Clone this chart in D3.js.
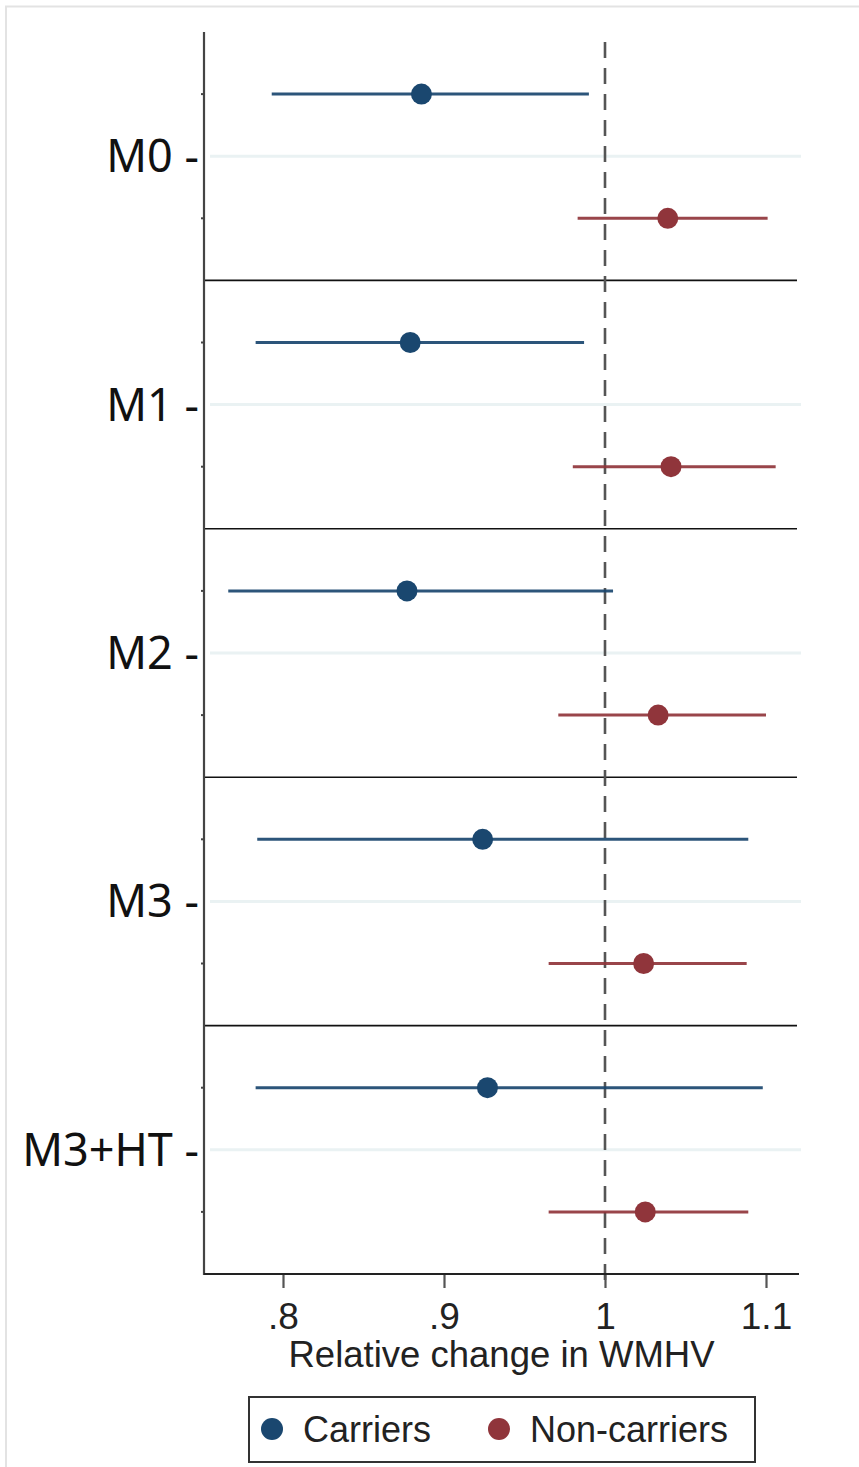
<!DOCTYPE html>
<html>
<head>
<meta charset="utf-8">
<script src="https://cdn.jsdelivr.net/npm/d3@7"></script>
<style>
  html, body { margin: 0; padding: 0; background: #fff; }
  svg { display: block; }
</style>
</head>
<body>
<svg id="chart" width="859" height="1467"></svg>
<script>
// Models (rows) and estimated relative change in WMHV with 95% CI
const models = ["M0", "M1", "M2", "M3", "M3+HT"];
const groups = ["Carriers", "Non-carriers"];

const carriersEst = [0.886, 0.879, 0.877, 0.924, 0.927];
const carriersLo  = [0.793, 0.783, 0.766, 0.784, 0.783];
const carriersHi  = [0.990, 0.987, 1.005, 1.089, 1.098];

const nonCarriersEst = [1.039, 1.041, 1.033, 1.024, 1.025];
const nonCarriersLo  = [0.983, 0.980, 0.971, 0.965, 0.965];
const nonCarriersHi  = [1.101, 1.106, 1.100, 1.088, 1.089];

const xTicks = [0.8, 0.9, 1.0, 1.1];
const xTickLabels = [".8", ".9", "1", "1.1"];
const refValue = 1;
const xTitle = "Relative change in WMHV";

const colors = { "Carriers": "#1a476f", "Non-carriers": "#90353b" };

// Rows built from the arrays above
const rows = [];
models.forEach((m, i) => {
  rows.push({ model: m, idx: i, group: "Carriers", offset: -0.25,
              est: carriersEst[i], lo: carriersLo[i], hi: carriersHi[i] });
  rows.push({ model: m, idx: i, group: "Non-carriers", offset: 0.25,
              est: nonCarriersEst[i], lo: nonCarriersLo[i], hi: nonCarriersHi[i] });
});

const svg = d3.select("#chart");

// Outer frame (top and left edges)
svg.append("line").attr("x1", 5).attr("x2", 859).attr("y1", 6.5).attr("y2", 6.5)
  .attr("stroke", "#e3e3e3").attr("stroke-width", 2);
svg.append("line").attr("x1", 6).attr("x2", 6).attr("y1", 6).attr("y2", 1467)
  .attr("stroke", "#e3e3e3").attr("stroke-width", 2);

const plotLeft = 204, plotRight = 799, plotTop = 32, plotBottom = 1274;

const x = d3.scaleLinear().domain([0.8, 1.1]).range([283, 766]);
const y = d3.scaleLinear().domain([-0.5, models.length - 0.5]).range([plotTop, plotBottom]);

// Light horizontal grid at each model row
svg.append("g").selectAll("line").data(models).join("line")
  .attr("x1", plotLeft + 6).attr("x2", plotRight + 2)
  .attr("y1", (d, i) => y(i)).attr("y2", (d, i) => y(i))
  .attr("stroke", "#eaf2f3").attr("stroke-width", 3);

// Separators between model blocks
svg.append("g").selectAll("line").data(d3.range(models.length - 1)).join("line")
  .attr("x1", plotLeft).attr("x2", plotRight - 2)
  .attr("y1", d => y(d + 0.5)).attr("y2", d => y(d + 0.5))
  .attr("stroke", "#111").attr("stroke-width", 1.6);

// Reference line at no change
svg.append("line")
  .attr("x1", x(refValue)).attr("x2", x(refValue))
  .attr("y1", 42).attr("y2", plotBottom + 12)
  .attr("stroke", "#555").attr("stroke-width", 2.6)
  .attr("stroke-dasharray", "16,10");

// Confidence intervals
svg.append("g").selectAll("line").data(rows).join("line")
  .attr("x1", d => x(d.lo)).attr("x2", d => x(d.hi))
  .attr("y1", d => y(d.idx + d.offset)).attr("y2", d => y(d.idx + d.offset))
  .attr("stroke", d => colors[d.group]).attr("stroke-width", 3)
  .attr("stroke-opacity", 0.92);

// Point estimates
svg.append("g").selectAll("circle").data(rows).join("circle")
  .attr("cx", d => x(d.est)).attr("cy", d => y(d.idx + d.offset))
  .attr("r", 10.5).attr("fill", d => colors[d.group]);

// Y axis line and minor ticks at each group row
svg.append("line").attr("x1", plotLeft).attr("x2", plotLeft)
  .attr("y1", plotTop).attr("y2", plotBottom + 1)
  .attr("stroke", "#444").attr("stroke-width", 2.2);
svg.append("g").selectAll("line").data(rows).join("line")
  .attr("x1", plotLeft - 3).attr("x2", plotLeft)
  .attr("y1", d => y(d.idx + d.offset)).attr("y2", d => y(d.idx + d.offset))
  .attr("stroke", "#444").attr("stroke-width", 2);

// Model labels with Stata-style dash tick
svg.append("g").selectAll("text").data(models).join("text")
  .attr("x", 199).attr("y", (d, i) => y(i) + 16)
  .attr("text-anchor", "end")
  .attr("font-family", "'Noto Sans', 'Open Sans', sans-serif")
  .attr("font-size", 45).attr("fill", "#111")
  .text(d => d + " -");

// X axis
const xAxis = d3.axisBottom(x).tickValues(xTicks)
  .tickFormat((d, i) => xTickLabels[i]).tickSize(14).tickPadding(15);
const gx = svg.append("g").attr("transform", `translate(0,${plotBottom})`).call(xAxis);
gx.select(".domain").remove();
gx.selectAll(".tick line").attr("stroke", "#555").attr("stroke-width", 2.2);
gx.selectAll(".tick text")
  .attr("font-family", "'Liberation Sans', Arial, sans-serif")
  .attr("font-size", 37).attr("fill", "#222");
svg.append("line").attr("x1", plotLeft).attr("x2", plotRight)
  .attr("y1", plotBottom).attr("y2", plotBottom)
  .attr("stroke", "#222").attr("stroke-width", 2);

svg.append("text")
  .attr("x", (plotLeft + plotRight) / 2).attr("y", 1367)
  .attr("text-anchor", "middle")
  .attr("font-family", "'Liberation Sans', Arial, sans-serif")
  .attr("font-size", 36.5).attr("fill", "#222")
  .text(xTitle);

// Legend
const legend = svg.append("g");
legend.append("rect").attr("x", 249).attr("y", 1397).attr("width", 506).attr("height", 65)
  .attr("fill", "#fff").attr("stroke", "#333").attr("stroke-width", 2);
const legendX = [272, 499];
groups.forEach((g, i) => {
  legend.append("circle").attr("cx", legendX[i]).attr("cy", 1429).attr("r", 11)
    .attr("fill", colors[g]);
  legend.append("text").attr("x", legendX[i] + 31).attr("y", 1442)
    .attr("font-family", "'Liberation Sans', Arial, sans-serif")
    .attr("font-size", 36).attr("fill", "#222")
    .text(g);
});
</script>
</body>
</html>
